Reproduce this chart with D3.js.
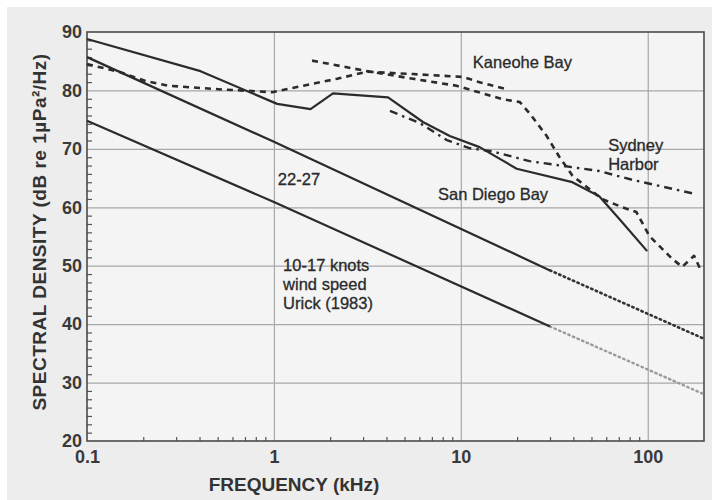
<!DOCTYPE html>
<html>
<head>
<meta charset="utf-8">
<script src="https://cdn.jsdelivr.net/npm/d3@7"></script>
<style>
  html, body { margin: 0; padding: 0; background: #ffffff; }
  svg { display: block; }
  text { font-family: "Liberation Sans", Arial, Helvetica, sans-serif; }
</style>
</head>
<body>
<svg id="chart" width="712" height="500"></svg>
<script>
// ---------- DATA ----------
const xTicks = [0.1, 1, 10, 100];
const xTickLabels = ["0.1", "1", "10", "100"];
const yTicks = [20, 30, 40, 50, 60, 70, 80, 90];

// San Diego Bay (solid)
const sanDiegoFreq = [0.1, 0.405, 1.04, 1.57, 2.07, 4.08, 6.27, 8.73, 12.6, 19.9, 39.5, 55, 70.5, 99.3];
const sanDiegoDb   = [88.8, 83.3, 77.7, 76.8, 79.5, 78.8, 74.6, 72.2, 70.3, 66.6, 64.3, 61.9, 58.0, 52.5];

// Kaneohe Bay, curve A (dashed, from 0.1 kHz)
const kaneoheAFreq = [0.1, 0.148, 0.206, 0.274, 0.506, 0.98, 1.44, 2.18, 3.15, 5.55, 10.3, 12.6, 17.6];
const kaneoheADb   = [84.5, 83.2, 81.6, 80.8, 80.2, 79.7, 80.8, 82.0, 83.2, 82.8, 82.3, 81.4, 80.2];

// Kaneohe Bay, curve B (dashed, from 1.6 kHz)
const kaneoheBFreq = [1.6, 3.15, 5.55, 9.5, 16.7, 20.7, 23.3, 28.8, 33.7, 39.6, 57.1, 73.1, 86.9, 102, 135, 153, 177, 193];
const kaneoheBDb   = [85.1, 83.3, 82.0, 80.8, 78.5, 78.0, 76.1, 72.2, 68.6, 65.4, 61.4, 60.0, 59.2, 55.1, 51.2, 49.8, 51.7, 49.1];

// Sydney Harbor (dash-dot)
const sydneyFreq = [4.18, 6.04, 8.41, 11.2, 14.6, 23.3, 55, 82.6, 173];
const sydneyDb   = [76.5, 74.4, 71.5, 70.1, 69.6, 67.9, 66.2, 64.7, 62.4];

// Urick (1983) wind noise 22-27 knots (solid, then dotted extrapolation)
const urick2227Freq = [0.1, 1, 30];
const urick2227Db   = [85.7, 71.2, 49.2];
const urick2227ExtFreq = [30, 200];
const urick2227ExtDb   = [49.2, 37.5];

// Urick (1983) wind noise 10-17 knots (solid, then light dotted extrapolation)
const urick1017Freq = [0.1, 1, 30];
const urick1017Db   = [74.8, 60.9, 39.6];
const urick1017ExtFreq = [30, 200];
const urick1017ExtDb   = [39.6, 28.0];

// Annotations (anchored in data space: frequency kHz, dB)
const annotText = ["Kaneohe Bay", "Sydney", "Harbor", "San Diego Bay", "22-27", "10-17 knots", "wind speed", "Urick (1983)"];
const annotFreq = [11.6, 61.4, 61.4, 7.55, 1.05, 1.12, 1.12, 1.12];
const annotDb   = [83.8, 69.6, 66.4, 61.2, 63.8, 49.1, 45.8, 42.6];

// ---------- CHART ----------
const W = 712, H = 500;
const plot = { left: 87, right: 704, top: 32, bottom: 441 };
const svg = d3.select("#chart");

const x = d3.scaleLog().domain([0.1, 200]).range([plot.left, plot.right]);
const y = d3.scaleLinear().domain([20, 90]).range([plot.bottom, plot.top]);

// background (scanned-paper look)
svg.append("rect").attr("x", 0).attr("y", 0).attr("width", W).attr("height", H).attr("fill", "#ffffff");
svg.append("rect").attr("x", 7).attr("y", 7).attr("width", W - 7).attr("height", H - 7).attr("fill", "#ededed");
svg.append("rect")
  .attr("x", plot.left).attr("y", plot.top)
  .attr("width", plot.right - plot.left).attr("height", plot.bottom - plot.top)
  .attr("fill", "#f4f4f4");

// grid lines
const gridY = svg.append("g").attr("transform", `translate(${plot.left},0)`)
  .call(d3.axisLeft(y).tickValues(yTicks.slice(1, -1)).tickSize(-(plot.right - plot.left)).tickFormat(""));
gridY.select(".domain").remove();
gridY.selectAll("line").attr("stroke", "#a8a8a8").attr("stroke-width", 1.2);

const gridX = svg.append("g").attr("transform", `translate(0,${plot.bottom})`)
  .call(d3.axisBottom(x).tickValues(xTicks.slice(1)).tickSize(-(plot.bottom - plot.top)).tickFormat(""));
gridX.select(".domain").remove();
gridX.selectAll("line").attr("stroke", "#a8a8a8").attr("stroke-width", 1.2);

// minor ticks (inward)
const yMinor = [];
for (let v = 20; v < 90; v += 10) for (let k = 1; k < 7; k++) yMinor.push(v + k * 10 / 7);
const yMinorAxis = svg.append("g").attr("transform", `translate(${plot.left},0)`)
  .call(d3.axisLeft(y).tickValues(yMinor).tickSize(-5).tickFormat(""));
yMinorAxis.select(".domain").remove();
yMinorAxis.selectAll("line").attr("stroke", "#555").attr("stroke-width", 1.2);

const xMinor = [];
[0.1, 1, 10].forEach(d => { for (let k = 2; k <= 9; k++) xMinor.push(d * k); });
const xMinorAxis = svg.append("g").attr("transform", `translate(0,${plot.bottom})`)
  .call(d3.axisBottom(x).tickValues(xMinor).tickSize(-4).tickFormat(""));
xMinorAxis.select(".domain").remove();
xMinorAxis.selectAll("line").attr("stroke", "#555").attr("stroke-width", 1.2);

// plot frame
svg.append("rect")
  .attr("x", plot.left).attr("y", plot.top)
  .attr("width", plot.right - plot.left).attr("height", plot.bottom - plot.top)
  .attr("fill", "none").attr("stroke", "#4a4a4a").attr("stroke-width", 1.6);

// tick labels
const yAxis = svg.append("g").attr("transform", `translate(${plot.left},0)`)
  .call(d3.axisLeft(y).tickValues(yTicks).tickSize(0).tickPadding(5).tickFormat(d3.format("d")));
yAxis.select(".domain").remove();
yAxis.selectAll("text")
  .attr("font-size", 18).attr("font-weight", "bold").attr("fill", "#3a3a3a")
  .attr("font-family", "'Liberation Sans', Arial, sans-serif");

const xAxis = svg.append("g").attr("transform", `translate(0,${plot.bottom})`)
  .call(d3.axisBottom(x).tickValues(xTicks).tickSize(0).tickPadding(9)
    .tickFormat((d, i) => xTickLabels[i]));
xAxis.select(".domain").remove();
xAxis.selectAll("text")
  .attr("font-size", 18).attr("font-weight", "bold").attr("fill", "#3a3a3a")
  .attr("font-family", "'Liberation Sans', Arial, sans-serif");

// axis titles
svg.append("text")
  .attr("x", 294).attr("y", 491)
  .attr("text-anchor", "middle")
  .attr("font-size", 19).attr("font-weight", "bold").attr("fill", "#333")
  .text("FREQUENCY (kHz)");

svg.append("text")
  .attr("transform", "translate(46,232) rotate(-90)")
  .attr("text-anchor", "middle")
  .attr("font-size", 19).attr("font-weight", "bold").attr("fill", "#333")
  .attr("letter-spacing", 0.5)
  .text("SPECTRAL DENSITY (dB re 1µPa²/Hz)");

// lines
const line = d3.line().x(d => x(d[0])).y(d => y(d[1]));
const zip = (a, b) => a.map((v, i) => [v, b[i]]);

const series = [
  { f: urick1017ExtFreq, d: urick1017ExtDb, stroke: "#999", width: 2.4, dash: "1.5,3.5", cap: "round" },
  { f: urick2227ExtFreq, d: urick2227ExtDb, stroke: "#333", width: 2.6, dash: "1.5,3.5", cap: "round" },
  { f: urick1017Freq, d: urick1017Db, stroke: "#2b2b2b", width: 2.2, dash: null, cap: "butt" },
  { f: urick2227Freq, d: urick2227Db, stroke: "#2b2b2b", width: 2.2, dash: null, cap: "butt" },
  { f: sydneyFreq, d: sydneyDb, stroke: "#2b2b2b", width: 2.4, dash: "8,5,2.5,5", cap: "butt" },
  { f: kaneoheAFreq, d: kaneoheADb, stroke: "#2b2b2b", width: 2.6, dash: "6,5", cap: "butt" },
  { f: kaneoheBFreq, d: kaneoheBDb, stroke: "#2b2b2b", width: 2.6, dash: "6,5", cap: "butt" },
  { f: sanDiegoFreq, d: sanDiegoDb, stroke: "#2b2b2b", width: 2.2, dash: null, cap: "butt" }
];

svg.append("g").selectAll("path").data(series).join("path")
  .attr("d", s => line(zip(s.f, s.d)))
  .attr("fill", "none")
  .attr("stroke", s => s.stroke)
  .attr("stroke-width", s => s.width)
  .attr("stroke-dasharray", s => s.dash)
  .attr("stroke-linecap", s => s.cap)
  .attr("stroke-linejoin", "round");

// annotations
svg.append("g").selectAll("text").data(annotText).join("text")
  .attr("x", (d, i) => x(annotFreq[i]))
  .attr("y", (d, i) => y(annotDb[i]))
  .attr("font-size", 16.5)
  .attr("fill", "#2a2a2a")
  .attr("stroke", "#2a2a2a").attr("stroke-width", 0.3)
  .text(d => d);
</script>
</body>
</html>
